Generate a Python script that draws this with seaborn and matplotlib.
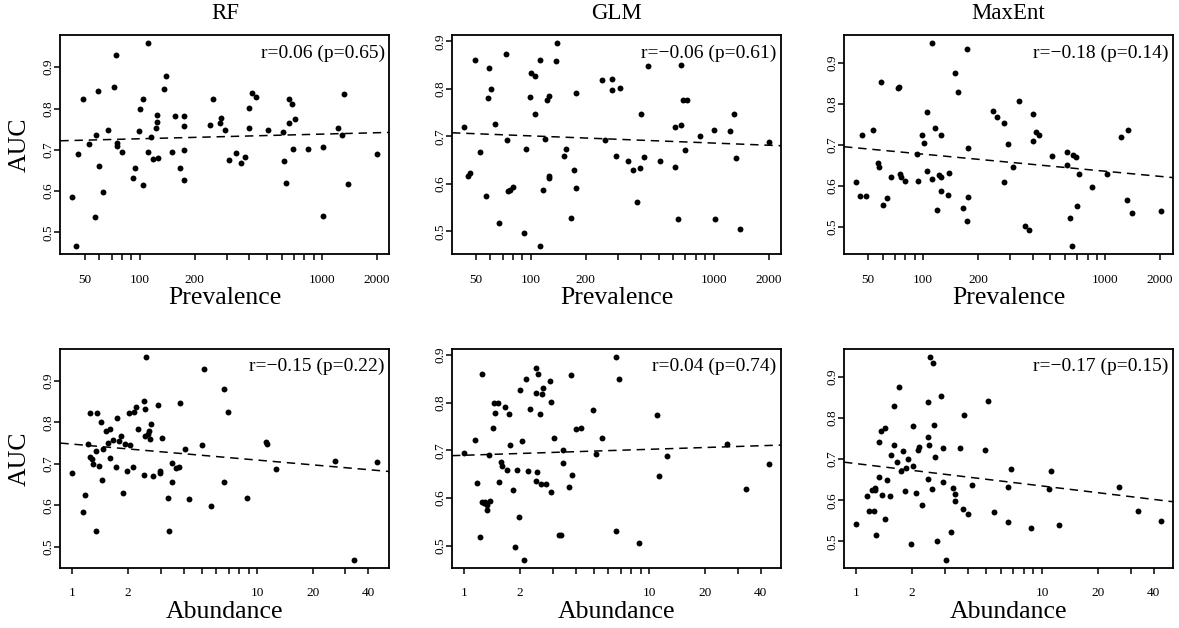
import numpy as np
import matplotlib
matplotlib.use("Agg")
import matplotlib.pyplot as plt
from matplotlib.ticker import NullLocator
import seaborn as sns

# ---- data: AUC of three species distribution models vs prevalence / abundance ----
models = ["RF", "GLM", "MaxEnt"]

prev_rf = [42.7, 44.9, 45.9, 48.7, 52.7, 56.9, 57.8, 58.8, 59.8, 62.9,
           66.8, 72.6, 73.8, 75.1, 75.1, 79.7, 91.9, 93.9, 98.7, 100.8,
           104.3, 104.7, 111.6, 111.6, 115.4, 118.3, 122.4, 124.5, 124.5, 126.1,
           136.5, 139.5, 150.4, 155.5, 165.6, 174.3, 174.3, 174.3, 175, 242,
           253.5, 277, 279, 293, 309, 337.5, 359.5, 378, 398, 398,
           413, 434.7, 508, 612, 617, 637, 658, 658, 684, 690,
           714, 835, 1008, 1008, 1224, 1295, 1317, 1396, 2008]
auc_rf_prev = [0.585, 0.467, 0.690, 0.823, 0.714, 0.537, 0.735, 0.842, 0.660, 0.598,
               0.748, 0.852, 0.929, 0.716, 0.710, 0.694, 0.631, 0.656, 0.745, 0.798,
               0.615, 0.823, 0.959, 0.694, 0.732, 0.678, 0.752, 0.785, 0.767, 0.680,
               0.847, 0.879, 0.694, 0.782, 0.657, 0.781, 0.757, 0.700, 0.627, 0.760,
               0.823, 0.766, 0.778, 0.748, 0.676, 0.693, 0.669, 0.683, 0.801, 0.752,
               0.838, 0.827, 0.747, 0.744, 0.673, 0.619, 0.823, 0.764, 0.810, 0.703,
               0.775, 0.702, 0.708, 0.539, 0.752, 0.736, 0.834, 0.618, 0.689]

prev_glm = [43.2, 45.2, 46.3, 49.2, 53.0, 57.2, 58.4, 59.1, 60.4, 63.3,
            67.1, 73.3, 74.2, 75.1, 76.7, 80.3, 92.0, 94.3, 99.2, 100.4,
            105.2, 105.6, 112.0, 112.5, 116.3, 119.3, 123.3, 125.4, 125.4, 126.0,
            137.6, 139.9, 151.6, 156.5, 166, 172, 176.4, 175.6, 243.9, 254.1,
            278.5, 279.6, 294, 309, 341, 363, 382, 398, 400, 415,
            435, 511, 612, 617, 641, 660, 664, 684, 693, 714,
            837, 1009, 1012, 1222, 1296, 1318, 1398, 2004]
auc_glm_prev = [0.720, 0.617, 0.623, 0.860, 0.668, 0.574, 0.780, 0.845, 0.800, 0.727,
                0.518, 0.873, 0.692, 0.586, 0.588, 0.594, 0.496, 0.673, 0.783, 0.833,
                0.828, 0.748, 0.861, 0.469, 0.587, 0.694, 0.776, 0.786, 0.617, 0.612,
                0.858, 0.897, 0.658, 0.673, 0.529, 0.630, 0.791, 0.592, 0.819, 0.692,
                0.821, 0.798, 0.658, 0.801, 0.649, 0.629, 0.561, 0.633, 0.748, 0.656,
                0.849, 0.648, 0.720, 0.635, 0.525, 0.724, 0.851, 0.777, 0.672, 0.777,
                0.701, 0.714, 0.525, 0.711, 0.748, 0.654, 0.506, 0.689]

prev_maxent = [42.9, 44.9, 45.9, 48.8, 52.9, 56.8, 57.5, 58.8, 60.0, 63.2,
               67.0, 72.6, 74.1, 74.7, 75.7, 80.0, 92.3, 93.9, 99.2, 100.8,
               105.2, 105.2, 112.1, 112.1, 115.9, 119.4, 122.9, 125.0, 125.0, 126,
               137.2, 139.5, 150.4, 156.4, 165.8, 175.0, 175.7, 175.7, 175, 242.5,
               255, 278, 279, 294, 310, 338, 362, 381, 399, 399,
               416, 435, 512, 613, 615, 641, 661, 667, 687, 696,
               716, 842, 1018, 1228, 1311, 1328, 1406, 2020]
auc_maxent_prev = [0.609, 0.575, 0.724, 0.575, 0.735, 0.656, 0.647, 0.852, 0.554, 0.570,
                   0.623, 0.838, 0.840, 0.630, 0.623, 0.612, 0.677, 0.613, 0.723, 0.705,
                   0.779, 0.637, 0.948, 0.616, 0.740, 0.542, 0.627, 0.623, 0.587, 0.724,
                   0.579, 0.632, 0.874, 0.829, 0.547, 0.933, 0.693, 0.574, 0.515, 0.783,
                   0.767, 0.753, 0.609, 0.701, 0.645, 0.807, 0.502, 0.493, 0.775, 0.709,
                   0.731, 0.723, 0.672, 0.682, 0.651, 0.523, 0.454, 0.676, 0.671, 0.551,
                   0.629, 0.597, 0.630, 0.719, 0.566, 0.736, 0.534, 0.540]

abund_rf = [1.0, 1.142, 1.171, 1.215, 1.246, 1.246, 1.272, 1.293, 1.337, 1.337,
            1.365, 1.393, 1.435, 1.446, 1.464, 1.520, 1.559, 1.592, 1.592, 1.666,
            1.715, 1.744, 1.787, 1.824, 1.878, 1.927, 1.976, 2.024, 2.04, 2.119,
            2.153, 2.206, 2.255, 2.43, 2.44, 2.458, 2.48, 2.51, 2.576, 2.597,
            2.64, 2.67, 2.74, 2.89, 2.96, 2.98, 3.06, 3.27, 3.34, 3.44,
            3.45, 3.65, 3.77, 3.82, 4.05, 4.27, 5.0, 5.15, 5.59, 6.61,
            6.63, 6.92, 8.78, 11.1, 11.3, 12.6, 26.4, 33.4, 44.6]
auc_rf_abund = [0.678, 0.585, 0.626, 0.747, 0.823, 0.717, 0.712, 0.700, 0.732, 0.538,
                0.823, 0.696, 0.801, 0.661, 0.736, 0.778, 0.751, 0.714, 0.783, 0.758,
                0.693, 0.810, 0.754, 0.768, 0.631, 0.748, 0.684, 0.823, 0.745, 0.693,
                0.825, 0.838, 0.785, 0.851, 0.673, 0.766, 0.833, 0.958, 0.773, 0.780,
                0.760, 0.797, 0.670, 0.841, 0.677, 0.682, 0.763, 0.619, 0.539, 0.701,
                0.656, 0.689, 0.692, 0.846, 0.735, 0.615, 0.745, 0.929, 0.599, 0.879,
                0.656, 0.824, 0.618, 0.753, 0.748, 0.688, 0.708, 0.469, 0.704]

abund_glm = [1.0, 1.146, 1.175, 1.21, 1.245, 1.245, 1.277, 1.298, 1.32, 1.336,
             1.364, 1.387, 1.434, 1.452, 1.47, 1.525, 1.55, 1.59, 1.596, 1.664,
             1.706, 1.741, 1.777, 1.838, 1.877, 1.924, 1.973, 2.01, 2.05, 2.11,
             2.17, 2.20, 2.26, 2.44, 2.45, 2.45, 2.47, 2.50, 2.57, 2.60,
             2.64, 2.67, 2.75, 2.91, 2.96, 2.96, 3.06, 3.25, 3.35, 3.43,
             3.43, 3.66, 3.79, 3.83, 4.02, 4.26, 4.97, 5.13, 5.57, 6.62,
             6.62, 6.85, 8.76, 11.0, 11.3, 12.5, 26.3, 33.3, 44.2]
auc_glm_abund = [0.694, 0.721, 0.631, 0.518, 0.861, 0.591, 0.589, 0.591, 0.586, 0.574,
                 0.691, 0.594, 0.748, 0.800, 0.779, 0.799, 0.633, 0.675, 0.668, 0.791,
                 0.659, 0.776, 0.711, 0.616, 0.496, 0.659, 0.560, 0.827, 0.719, 0.470,
                 0.849, 0.656, 0.787, 0.873, 0.821, 0.635, 0.654, 0.861, 0.776, 0.630,
                 0.819, 0.832, 0.630, 0.845, 0.802, 0.612, 0.725, 0.523, 0.523, 0.700,
                 0.673, 0.623, 0.859, 0.649, 0.746, 0.748, 0.784, 0.692, 0.727, 0.897,
                 0.530, 0.851, 0.506, 0.775, 0.647, 0.689, 0.714, 0.618, 0.672]

abund_maxent = [1.0, 1.141, 1.17, 1.209, 1.25, 1.255, 1.27, 1.286, 1.33, 1.33,
                1.357, 1.379, 1.438, 1.438, 1.468, 1.517, 1.543, 1.588, 1.588, 1.655,
                1.696, 1.738, 1.781, 1.826, 1.865, 1.912, 1.976, 2.01, 2.03, 2.10,
                2.15, 2.19, 2.25, 2.43, 2.44, 2.44, 2.47, 2.51, 2.56, 2.58,
                2.63, 2.66, 2.73, 2.87, 2.95, 2.95, 3.05, 3.24, 3.32, 3.41,
                3.42, 3.64, 3.78, 3.80, 4.01, 4.22, 4.96, 5.10, 5.54, 6.54,
                6.54, 6.81, 8.70, 10.87, 11.2, 12.4, 25.9, 32.8, 43.6]
auc_maxent_abund = [0.543, 0.611, 0.575, 0.625, 0.575, 0.625, 0.629, 0.515, 0.741, 0.656,
                    0.768, 0.613, 0.555, 0.776, 0.648, 0.610, 0.710, 0.829, 0.735, 0.693,
                    0.875, 0.670, 0.720, 0.623, 0.678, 0.701, 0.493, 0.780, 0.682, 0.617,
                    0.723, 0.730, 0.588, 0.839, 0.754, 0.651, 0.735, 0.949, 0.628, 0.934,
                    0.783, 0.706, 0.502, 0.853, 0.645, 0.726, 0.455, 0.523, 0.630, 0.614,
                    0.597, 0.726, 0.579, 0.807, 0.567, 0.637, 0.722, 0.842, 0.571, 0.547,
                    0.632, 0.676, 0.533, 0.627, 0.672, 0.540, 0.631, 0.575, 0.550]

# correlation statistics reported in each panel
r_prev = ["0.06", "\u22120.06", "\u22120.18"]
p_prev = ["0.65", "0.61", "0.14"]
r_abund = ["\u22120.15", "0.04", "\u22120.17"]
p_abund = ["0.22", "0.74", "0.15"]

# axis ticks (log scale) and which of them carry a label
prev_ticks = [50, 60, 70, 80, 90, 100, 200, 300, 400, 500, 600, 700, 800, 900, 1000, 2000]
prev_labeled = [50, 100, 200, 1000, 2000]
abund_ticks = [1, 2, 3, 4, 5, 6, 7, 8, 9, 10, 20, 30, 40]
abund_labeled = [1, 2, 10, 20, 40]
auc_ticks = [0.5, 0.6, 0.7, 0.8, 0.9]

# ---- styling ----
sns.set_theme(style="ticks")
plt.rcParams["font.family"] = ["Liberation Serif", "DejaVu Serif"]
plt.rcParams["axes.linewidth"] = 1.2

W, H = 1179, 628
fig = plt.figure(figsize=(W / 100, H / 100), dpi=100)

col_left = [60.3, 452.0, 844.0]
panel_w = 329.0
row_top = [34.7, 348.5]
panel_h = 219.5


def padded(lo, hi, log=False):
    if log:
        lo, hi = np.log10(lo), np.log10(hi)
    d = 0.04 * (hi - lo)
    lo, hi = lo - d, hi + d
    if log:
        return 10 ** lo, 10 ** hi
    return lo, hi


def panel(ax, x, y, ticks, labeled, r, p, xlabel, title=None, ylabel=None):
    x = np.asarray(x, float)
    y = np.asarray(y, float)
    ax.set_xscale("log")
    xlim = padded(x.min(), x.max(), log=True)
    ylim = padded(y.min(), y.max())
    ax.set_xlim(*xlim)
    ax.set_ylim(*ylim)

    sns.scatterplot(x=x, y=y, ax=ax, color="black", s=18, linewidth=0, legend=False)
    sns.regplot(x=x, y=y, ax=ax, scatter=False, logx=True, ci=None, truncate=False,
                color="black", line_kws=dict(lw=1.1, dashes=(5.5, 3.8)))
    ax.set_xlim(*xlim)
    ax.set_ylim(*ylim)

    ax.set_xticks(ticks)
    ax.set_xticklabels([str(t) if t in labeled else "" for t in ticks])
    ax.xaxis.set_minor_locator(NullLocator())
    ax.set_yticks(auc_ticks)
    ax.set_yticklabels([f"{t:.1f}" for t in auc_ticks])
    ax.tick_params(axis="both", length=4, width=1.1, color="black",
                   labelsize=9.5, labelcolor="black")
    ax.tick_params(axis="x", pad=10)
    ax.tick_params(axis="y", pad=0, labelrotation=90)
    for lbl in ax.get_yticklabels():
        lbl.set_va("center")
    for s in ax.spines.values():
        s.set_visible(True)
        s.set_color("black")
        s.set_linewidth(1.3)

    ax.set_xlabel(xlabel, fontsize=18.5, color="black")
    ax.xaxis.set_label_coords(0.5, -0.15)
    if ylabel:
        ax.set_ylabel(ylabel, fontsize=18.5, color="black")
        ax.yaxis.set_label_coords(-0.091, 0.5)
    else:
        ax.set_ylabel("")
    if title:
        ax.set_title(title, fontsize=16.5, pad=11, color="black")

    ax.text(0.986, 0.917, f"r={r} (p={p})", transform=ax.transAxes,
            ha="right", va="center", fontsize=14, color="black")


top_x = [prev_rf, prev_glm, prev_maxent]
top_y = [auc_rf_prev, auc_glm_prev, auc_maxent_prev]
bot_x = [abund_rf, abund_glm, abund_maxent]
bot_y = [auc_rf_abund, auc_glm_abund, auc_maxent_abund]

for i, name in enumerate(models):
    for row in range(2):
        left = col_left[i] / W
        bottom = 1 - (row_top[row] + panel_h) / H
        ax = fig.add_axes([left, bottom, panel_w / W, panel_h / H])
        if row == 0:
            panel(ax, top_x[i], top_y[i], prev_ticks, prev_labeled, r_prev[i], p_prev[i],
                  "Prevalence", title=name, ylabel="AUC" if i == 0 else None)
        else:
            panel(ax, bot_x[i], bot_y[i], abund_ticks, abund_labeled, r_abund[i], p_abund[i],
                  "Abundance", ylabel="AUC" if i == 0 else None)

fig.savefig("out.png", dpi=100, facecolor="white")
